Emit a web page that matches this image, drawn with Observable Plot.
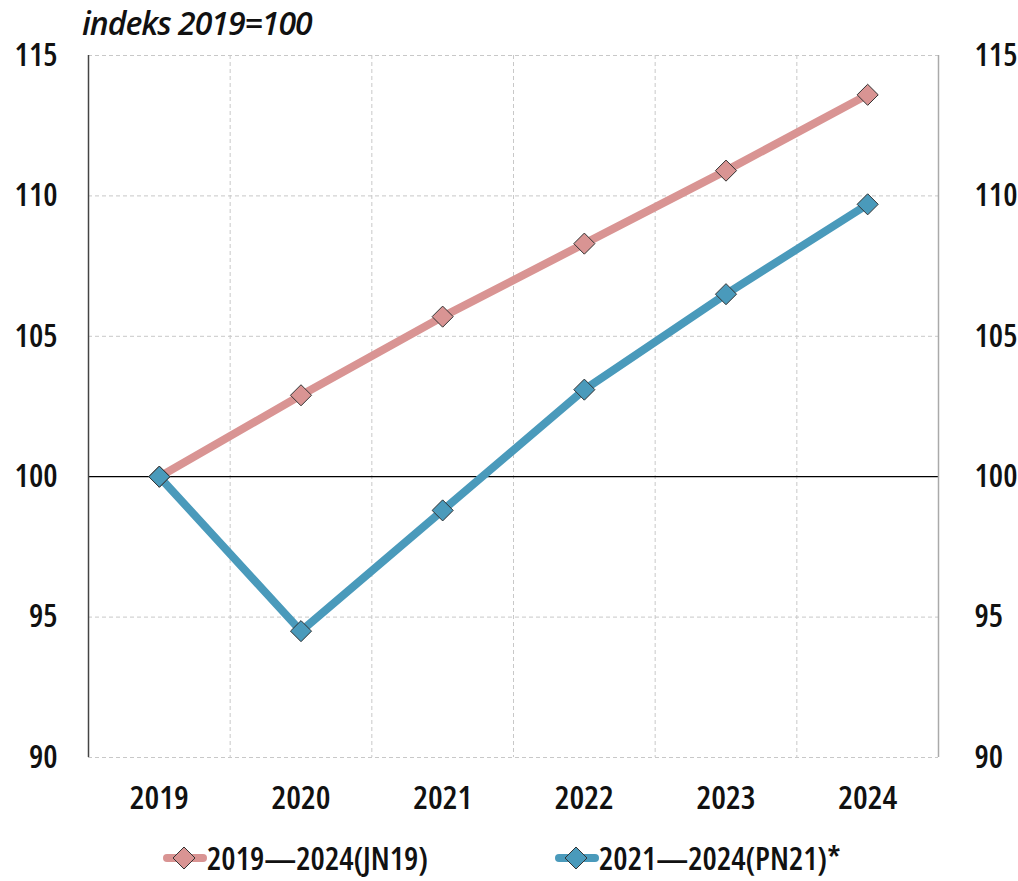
<!DOCTYPE html>
<html><head><meta charset="utf-8">
<script src="https://cdn.jsdelivr.net/npm/d3@7"></script>
<script src="https://cdn.jsdelivr.net/npm/@observablehq/plot@0.6"></script>
<style>
body{margin:0;background:#fff;}
#wrap{position:relative;width:1018px;height:881px;font-family:"Open Sans",sans-serif;font-stretch:condensed;font-weight:560;}
#title{position:absolute;left:82px;top:3px;font-size:32px;line-height:40px;font-style:italic;font-stretch:normal;font-weight:560;color:#111;white-space:nowrap;letter-spacing:-1px;}
#chart{position:absolute;left:0;top:0;}
#legend{position:absolute;top:842px;left:0;width:1018px;height:32px;}
.item{position:absolute;top:0;height:32px;display:flex;align-items:center;font-size:32px;color:#111;white-space:nowrap;line-height:32px;}
</style></head>
<body><div id="wrap"><div id="title">indeks 2019=100</div><div id="chart"></div><div id="legend"></div></div>
<script>
const years = [2019, 2020, 2021, 2022, 2023, 2024];
const seriesA = [100, 102.9, 105.7, 108.3, 110.9, 113.6];
const seriesB = [100, 94.5, 98.8, 103.1, 106.5, 109.7];
const labelA = "2019\u20142024(JN19)";
const labelB = "2021\u20142024(PN21)*";
const colorA = "#d99493";
const colorB = "#4a9abb";
const yTicks = [90, 95, 100, 105, 110, 115];

const data = [
  ...years.map((y, i) => ({year: y, v: seriesA[i], s: labelA})),
  ...years.map((y, i) => ({year: y, v: seriesB[i], s: labelB}))
];
const bounds = years.slice(0, -1).map(y => y + 0.5);

const chart = Plot.plot({
  width: 1018, height: 830,
  marginTop: 55, marginBottom: 73, marginLeft: 88, marginRight: 80,
  style: "font-family:'Open Sans',sans-serif;font-stretch:condensed;font-weight:560;font-size:32px;color:#111;background:transparent;overflow:visible",
  x: {domain: [years[0] - 0.5, years[years.length - 1] + 0.5]},
  y: {domain: [90, 115]},
  color: {domain: [labelA, labelB], range: [colorA, colorB]},
  marks: [
    Plot.ruleX(bounds, {stroke: "#c8c8c8", strokeDasharray: "4,3", strokeWidth: 1}),
    Plot.ruleY(yTicks.filter(t => t !== 100), {stroke: "#c8c8c8", strokeDasharray: "4,3", strokeWidth: 1}),
    Plot.ruleY([100], {stroke: "#000", strokeWidth: 1.2}),
    Plot.ruleX([years[0] - 0.5], {stroke: "#444", strokeWidth: 1.5}),
    Plot.ruleX([years[years.length - 1] + 0.5], {stroke: "#aaa", strokeWidth: 1.5}),
    Plot.axisY(yTicks, {anchor: "left", tickSize: 0, tickPadding: 31, label: null, fontSize: 32}),
    Plot.axisY(yTicks, {anchor: "right", tickSize: 0, tickPadding: 36, textAnchor: "start", label: null, fontSize: 32}),
    Plot.axisX(years, {anchor: "bottom", tickSize: 0, tickPadding: 28, tickFormat: d => String(d), label: null, fontSize: 33}),
    Plot.line(data, {x: "year", y: "v", z: "s", stroke: "s", strokeWidth: 8, strokeLinejoin: "round"}),
    Plot.dot(data, {x: "year", y: "v", fill: "s", symbol: "diamond2", r: 9.5, stroke: "#333", strokeWidth: 1})
  ]
});
document.getElementById("chart").appendChild(chart);

const legend = document.getElementById("legend");
[[labelA, colorA, 163], [labelB, colorB, 555]].forEach(([lab, col, x]) => {
  const it = document.createElement("div");
  it.className = "item";
  it.style.left = x + "px";
  it.innerHTML = `<svg width="44" height="30" viewBox="0 0 44 30" style="margin-right:0px">
    <line x1="4" y1="15" x2="40" y2="15" stroke="${col}" stroke-width="8" stroke-linecap="round"/>
    <path d="M21 4 L32 15 L21 26 L10 15 Z" fill="${col}" stroke="#333" stroke-width="1"/></svg><span>${lab}</span>`;
  legend.appendChild(it);
});
</script></body></html>
